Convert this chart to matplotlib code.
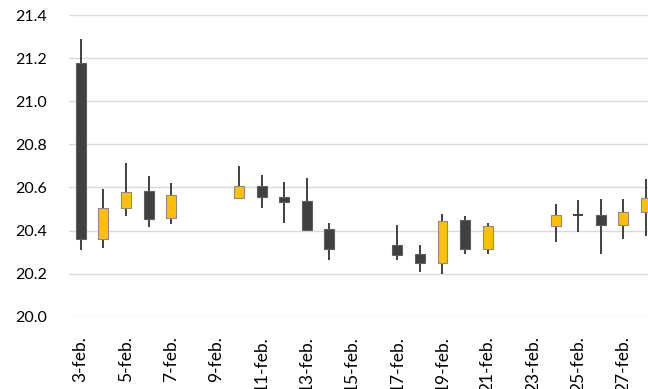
import matplotlib.pyplot as plt
import numpy as np

# Daily OHLC, February (trading days only)
days = [3, 4, 5, 6, 7, 10, 11, 12, 13, 14, 17, 18, 19, 20, 21, 24, 25, 26, 27, 28]
opens = [21.177, 20.362, 20.503, 20.582, 20.457, 20.550, 20.608, 20.557, 20.536, 20.406,
         20.332, 20.290, 20.251, 20.448, 20.316, 20.423, 20.471, 20.471, 20.424, 20.485]
highs = [21.290, 20.593, 20.712, 20.652, 20.622, 20.700, 20.657, 20.627, 20.644, 20.435,
         20.426, 20.334, 20.476, 20.469, 20.434, 20.522, 20.543, 20.545, 20.545, 20.639]
lows = [20.310, 20.318, 20.468, 20.417, 20.430, 20.550, 20.503, 20.437, 20.398, 20.262,
        20.265, 20.209, 20.200, 20.293, 20.291, 20.345, 20.392, 20.290, 20.362, 20.376]
closes = [20.362, 20.503, 20.580, 20.455, 20.564, 20.607, 20.557, 20.534, 20.404, 20.313,
          20.288, 20.251, 20.444, 20.316, 20.421, 20.474, 20.471, 20.424, 20.485, 20.550]

tick_days = list(range(3, 28, 2))
tick_labels = [f'{d}-feb.' for d in tick_days]

up_color = '#FFC000'
down_color = '#404040'

plt.rcParams['font.family'] = ['Lato', 'DejaVu Sans']

fig = plt.figure(figsize=(6.48, 3.89), dpi=100)
ax = fig.add_axes([69 / 648, 72.3 / 389, 1 - 69 / 648, 301.5 / 389])

x = np.array(days)
o = np.array(opens)
c = np.array(closes)

# wicks
ax.vlines(x, lows, highs, color='#404040', linewidth=1.4, zorder=2)

# bodies
up = c > o
down = c < o
flat = c == o
ax.bar(x[up], (c - o)[up], bottom=o[up], width=0.44, color=up_color,
       edgecolor='#8a8a8a', linewidth=0.8, zorder=3)
ax.bar(x[down], (o - c)[down], bottom=c[down], width=0.44, color=down_color,
       edgecolor='#5f5f5f', linewidth=0.8, zorder=3)
# open == close: just a horizontal tick
ax.hlines(o[flat], x[flat] - 0.22, x[flat] + 0.22, color='#404040', linewidth=1.4, zorder=3)

ax.set_xlim(2.48, 28.09)
ax.set_ylim(20.0, 21.4)
ax.set_yticks(np.arange(20.0, 21.41, 0.2))
ax.set_yticklabels([f'{v:.1f}' for v in np.arange(20.0, 21.41, 0.2)])
ax.set_xticks(tick_days)
ax.set_xticklabels(tick_labels, rotation=90)

ax.grid(axis='y', color='#d9d9d9', linewidth=1.0, zorder=0)
ax.set_axisbelow(True)
for s in ax.spines.values():
    s.set_visible(False)
ax.tick_params(axis='y', length=0, pad=16, labelsize=11.5, labelcolor='black')
ax.tick_params(axis='x', length=0, pad=14, labelsize=12.5, labelcolor='black')

fig.savefig('out.png', dpi=100)
